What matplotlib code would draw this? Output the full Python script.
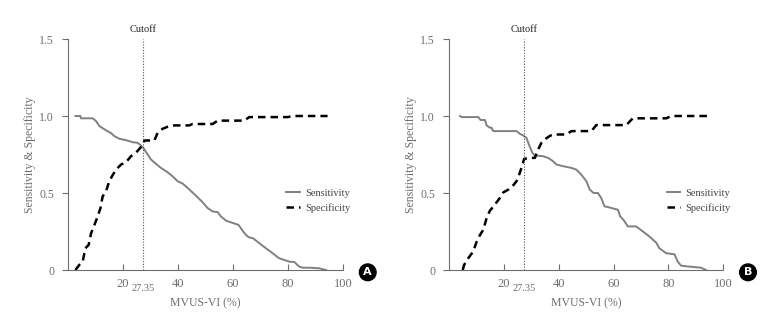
import matplotlib.pyplot as plt

plt.rcParams['font.family'] = ['Liberation Serif', 'DejaVu Serif']

cutoff = 27.35
x_ticks = [20, 40, 60, 80, 100]
y_ticks = [0, 0.5, 1.0, 1.5]
y_tick_labels = ['0', '0.5', '1.0', '1.5']

# Panel A
sens_a_x = [2.7, 4.5, 4.7, 9, 10.2, 11.4, 13.8, 15.6, 16.8, 18.7, 21.1, 23.5, 25.3, 26.5,
            27.4, 28.4, 30.2, 32, 33.8, 36.2, 38, 39.9, 41.7, 43.5, 46.5, 49, 50.8, 52.6,
            54.4, 55.6, 57.5, 59.3, 62, 63.3, 64.7, 65.7, 67.2, 69.6, 72, 74.4, 76.8, 78.7,
            80.5, 82.3, 84.1, 85.3, 87.8, 91.4, 93.8]
sens_a_y = [1.0, 1.0, 0.985, 0.985, 0.967, 0.935, 0.907, 0.89, 0.87, 0.852, 0.843, 0.83,
            0.826, 0.809, 0.793, 0.765, 0.717, 0.689, 0.663, 0.635, 0.609, 0.576, 0.561,
            0.533, 0.483, 0.439, 0.402, 0.38, 0.376, 0.348, 0.32, 0.309, 0.293, 0.26, 0.228,
            0.213, 0.207, 0.174, 0.141, 0.109, 0.076, 0.065, 0.054, 0.052, 0.022, 0.015,
            0.015, 0.011, 0.0]
spec_a_x = [2.7, 4.1, 5.3, 6.3, 7.5, 8.4, 9.6, 10.8, 11.8, 12.6, 13.8, 15, 16.2, 17.5, 19.3,
            21.1, 22.9, 24.7, 26.5, 27.4, 27.8, 31.4, 32.6, 34.4, 36.2, 38.7, 44.1, 45.3,
            52.6, 54.4, 64.1, 65.9, 79.9, 81.7, 94.4]
spec_a_y = [0, 0.033, 0.05, 0.141, 0.163, 0.239, 0.293, 0.348, 0.402, 0.478, 0.511, 0.576,
            0.615, 0.652, 0.685, 0.7, 0.739, 0.761, 0.798, 0.82, 0.841, 0.841, 0.891, 0.917,
            0.93, 0.939, 0.939, 0.948, 0.948, 0.97, 0.97, 0.993, 0.993, 1.0, 1.0]

# Panel B
sens_b_x = [4, 4.6, 10.7, 11.5, 13.1, 13.7, 14.9, 15.5, 16.1, 24.6, 25.8, 27, 28.2, 29.2,
            30.4, 31.3, 34.3, 36.1, 37.9, 39.2, 41.6, 44.6, 46.4, 48.2, 50.1, 51.3, 52.7,
            54.3, 55.5, 56.7, 57.9, 61.6, 62.4, 63.6, 65.2, 68.2, 70.7, 73.1, 75.5, 76.7,
            79.2, 82.2, 83.4, 84.6, 87.6, 91.9, 93.7]
sens_b_y = [1.0, 0.993, 0.993, 0.974, 0.974, 0.939, 0.924, 0.924, 0.902, 0.902, 0.885,
            0.874, 0.859, 0.811, 0.761, 0.743, 0.739, 0.728, 0.707, 0.685, 0.674, 0.663,
            0.652, 0.62, 0.576, 0.522, 0.5, 0.5, 0.467, 0.413, 0.409, 0.391, 0.348, 0.326,
            0.283, 0.283, 0.25, 0.217, 0.178, 0.141, 0.109, 0.102, 0.054, 0.028, 0.022,
            0.015, 0.0]
spec_b_x = [5, 5.5, 7, 8.8, 10.1, 11.3, 12.5, 13.7, 14.9, 16.7, 18.5, 19.8, 21.6, 23.4,
            24.6, 25.8, 26.8, 27.4, 30.1, 31.3, 32.5, 33.7, 34.9, 36.7, 37.9, 42.8, 44.6,
            51.9, 53.7, 64.6, 67, 79.2, 81, 94.3]
spec_b_y = [0, 0.033, 0.076, 0.12, 0.185, 0.228, 0.261, 0.337, 0.385, 0.424, 0.467, 0.504,
            0.522, 0.55, 0.576, 0.63, 0.685, 0.722, 0.728, 0.728, 0.783, 0.826, 0.848, 0.87,
            0.88, 0.88, 0.902, 0.902, 0.941, 0.941, 0.985, 0.985, 1.0, 1.0]

panels = [
    ('A', sens_a_x, sens_a_y, spec_a_x, spec_a_y, [0.0873, 0.1743, 0.3530, 0.7064]),
    ('B', sens_b_x, sens_b_y, spec_b_x, spec_b_y, [0.5764, 0.1743, 0.3521, 0.7064]),
]

fig = plt.figure(figsize=(7.79, 3.27), dpi=100)
grey = '#6e6e6e'

for letter, sx, sy, px, py, rect in panels:
    ax = fig.add_axes(rect)
    ax.plot(sx, sy, color='#808080', lw=1.4, label='Sensitivity')
    ax.plot(px, py, color='black', lw=1.8, ls=(0, (3, 2)), label='Specificity')
    ax.axvline(cutoff, color='#555555', lw=0.8, ls=(0, (1, 1.5)))
    ax.set_xlim(0, 100)
    ax.set_ylim(0, 1.5)
    ax.set_xticks(x_ticks)
    ax.set_yticks(y_ticks)
    ax.set_yticklabels(y_tick_labels)
    for s in ['top', 'right']:
        ax.spines[s].set_visible(False)
    for s in ['left', 'bottom']:
        ax.spines[s].set_color(grey)
        ax.spines[s].set_linewidth(0.8)
    ax.tick_params(axis='x', direction='in', length=4, color=grey, labelcolor=grey,
                   labelsize=9, pad=6)
    ax.tick_params(axis='y', direction='out', length=4, color=grey, labelcolor=grey,
                   labelsize=8.5, pad=6)
    ax.text(cutoff, -0.078, '27.35', transform=ax.get_xaxis_transform(),
            ha='center', va='center', fontsize=7.5, color=grey)
    ax.text(cutoff, 1.53, 'Cutoff', ha='center', va='bottom', fontsize=7.5, color='#222222')
    ax.set_xlabel('MVUS-VI (%)', fontsize=8.5, color=grey, labelpad=5)
    ax.set_ylabel('Sensitivity & Specificity', fontsize=8.5, color=grey, labelpad=2)
    leg = ax.legend(loc='center left', bbox_to_anchor=(0.76, 0.30), frameon=False,
                    fontsize=7.5, handlelength=1.3, handletextpad=0.5, labelspacing=0.55)
    for t in leg.get_texts():
        t.set_color('#444444')
    ax.text(1.09, -0.01, letter, transform=ax.transAxes, ha='center', va='center',
            fontsize=8, fontweight='bold', color='white', family='DejaVu Sans',
            bbox=dict(boxstyle='circle,pad=0.3', fc='black', ec='black'))

plt.savefig('out.png', dpi=100)
